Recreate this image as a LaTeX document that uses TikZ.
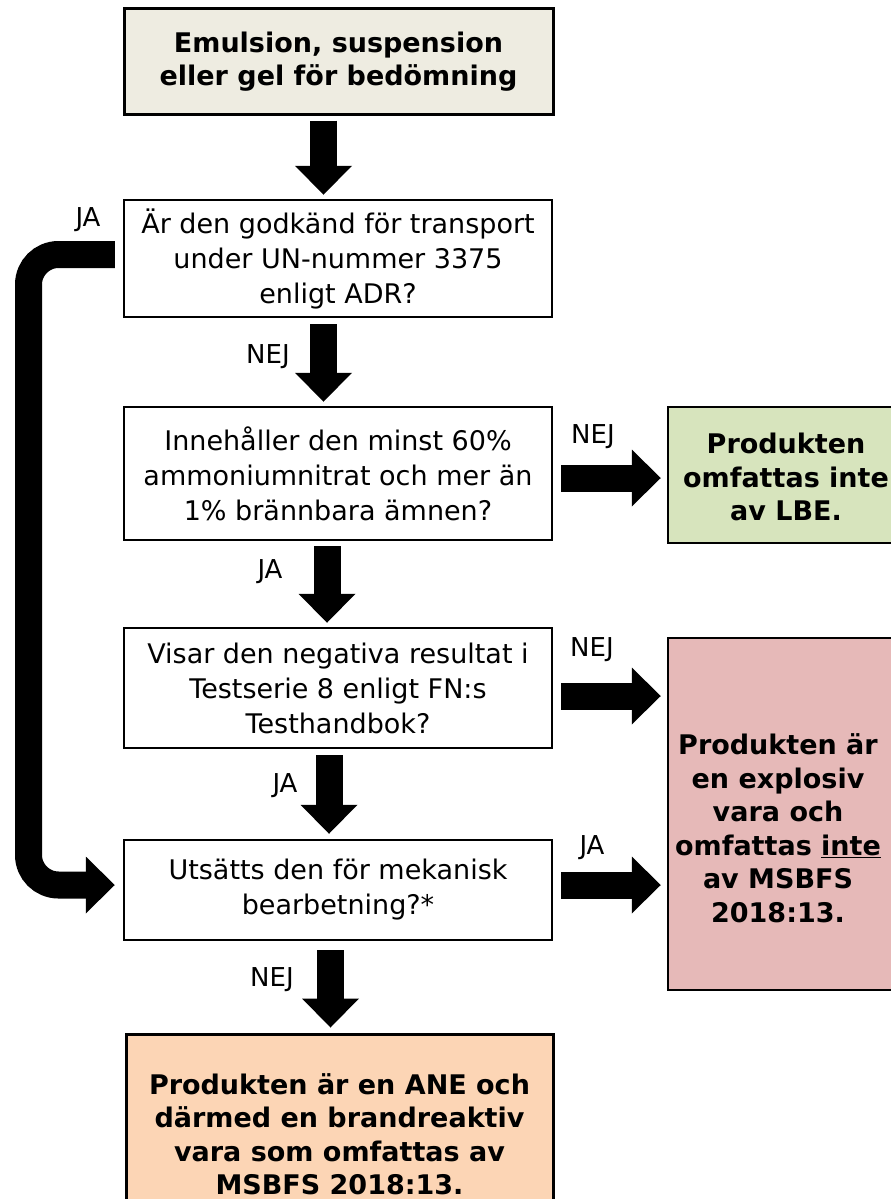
\documentclass[tikz,border=0pt]{standalone}
\usepackage{fontspec}
\setmainfont{DejaVu Sans}
\usetikzlibrary{arrows.meta}
\definecolor{beigeC}{HTML}{EEECE1}
\definecolor{greenC}{HTML}{D7E4BD}
\definecolor{pinkC}{HTML}{E6B9B8}
\definecolor{orangeC}{HTML}{FCD5B5}
\begin{document}
\begin{tikzpicture}[x=1pt,y=-1pt,
  box/.style={draw=black, line width=2.5pt, rectangle, inner sep=0pt, align=center,
    font=\fontsize{27}{35}\selectfont},
  boldtxt/.style={align=center, inner sep=0pt, font=\bfseries\fontsize{27}{33.5}\selectfont},
  blk/.style={line width=27pt, -{Triangle[length=29pt,width=57pt,line width=0pt]}},
  lbl/.style={font=\fontsize{26}{30}\selectfont, inner sep=0pt}]
\clip (0,0) rectangle (891,1199);
\fill[white] (0,0) rectangle (891,1199);

% boxes
\node[box, fill=beigeC, line width=3pt, font=\bfseries\fontsize{27}{33}\selectfont,
  minimum width=429pt, minimum height=105pt] (start) at (338.5,61.5)
  {Emulsion, suspension\\eller gel för bedömning};
\node[box, minimum width=428pt, minimum height=117pt] (q1) at (338,258.5)
  {Är den godkänd för transport\\under UN-nummer 3375\\enligt ADR?};
\node[box, minimum width=428pt, minimum height=133pt] (q2) at (338,473.5)
  {Innehåller den minst 60\%\\ammoniumnitrat och mer än\\1\% brännbara ämnen?};
\node[box, minimum width=428pt, minimum height=120pt] (q3) at (338,688)
  {Visar den negativa resultat i\\Testserie 8 enligt FN:s\\Testhandbok?};
\node[box, minimum width=428pt, minimum height=100pt] (q4) at (338,890)
  {Utsätts den för mekanisk\\bearbetning?*};
\node[box, fill=orangeC, line width=3pt, font=\bfseries\fontsize{27}{33.5}\selectfont,
  minimum width=427pt, minimum height=200pt] (final) at (339.5,1134)
  {Produkten är en ANE och\\därmed en brandreaktiv\\vara som omfattas av\\MSBFS 2018:13.};

\node[box, fill=greenC, minimum width=240pt, minimum height=136pt] (green) at (788,475) {};
\node[boldtxt] (greentxt) at (786,477) {Produkten\\omfattas inte\\av LBE.};
\node[box, fill=pinkC, minimum width=240pt, minimum height=352pt] (pink) at (788,814) {};
\node[boldtxt] (pinktxt) at (778,828)
  {Produkten är\\en explosiv\\vara och\\omfattas \underline{inte}\\av MSBFS\\2018:13.};

% arrow axes
\coordinate (ax1) at (323.5,0);
\coordinate (ax2) at (323.5,0);
\coordinate (ax3) at (327,0);
\coordinate (ax4) at (329,0);
\coordinate (ax5) at (330.5,0);
\coordinate (ay2) at (0,478);
\coordinate (ay3) at (0,696);
\coordinate (ay4) at (0,885);

% vertical arrows
\draw[blk, shorten <=5pt, shorten >=4pt] (start.south -| ax1) -- (q1.north -| ax1);
\draw[blk, shorten <=6pt, shorten >=4pt] (q1.south -| ax2) -- (q2.north -| ax2);
\draw[blk, shorten <=5pt, shorten >=4pt] (q2.south -| ax3) -- (q3.north -| ax3);
\draw[blk, shorten <=6pt, shorten >=5pt] (q3.south -| ax4) -- (q4.north -| ax4);
\draw[blk, shorten <=9pt, shorten >=5pt] (q4.south -| ax5) -- (final.north -| ax5);

% horizontal arrows
\draw[blk, shorten <=8pt, shorten >=6pt] (q2.east |- ay2) -- (green.west |- ay2);
\draw[blk, shorten <=8pt, shorten >=6pt] (q3.east |- ay3) -- (pink.west |- ay3);
\draw[blk, shorten <=8pt, shorten >=6pt] (q4.east |- ay4) -- (pink.west |- ay4);

% left JA arrow
\coordinate (jx) at (28.5,0);
\coordinate (jaS) at ([yshift=4pt]q1.west);
\coordinate (jaE) at ([yshift=5pt]q4.west);
\draw[blk, rounded corners=30pt, shorten <=8pt, shorten >=8pt]
  (jaS) -- (jx |- jaS) -- (jx |- jaE) -- (jaE);

% labels
\node[lbl] (l0) at (88,220) {JA};
\node[lbl] (l1) at (268,357) {NEJ};
\node[lbl] (l2) at (593,437) {NEJ};
\node[lbl] (l3) at (270,572) {JA};
\node[lbl] (l4) at (592,650) {NEJ};
\node[lbl] (l5) at (285,786) {JA};
\node[lbl] (l6) at (592,848) {JA};
\node[lbl] (l7) at (272,980) {NEJ};
\end{tikzpicture}
\end{document}
